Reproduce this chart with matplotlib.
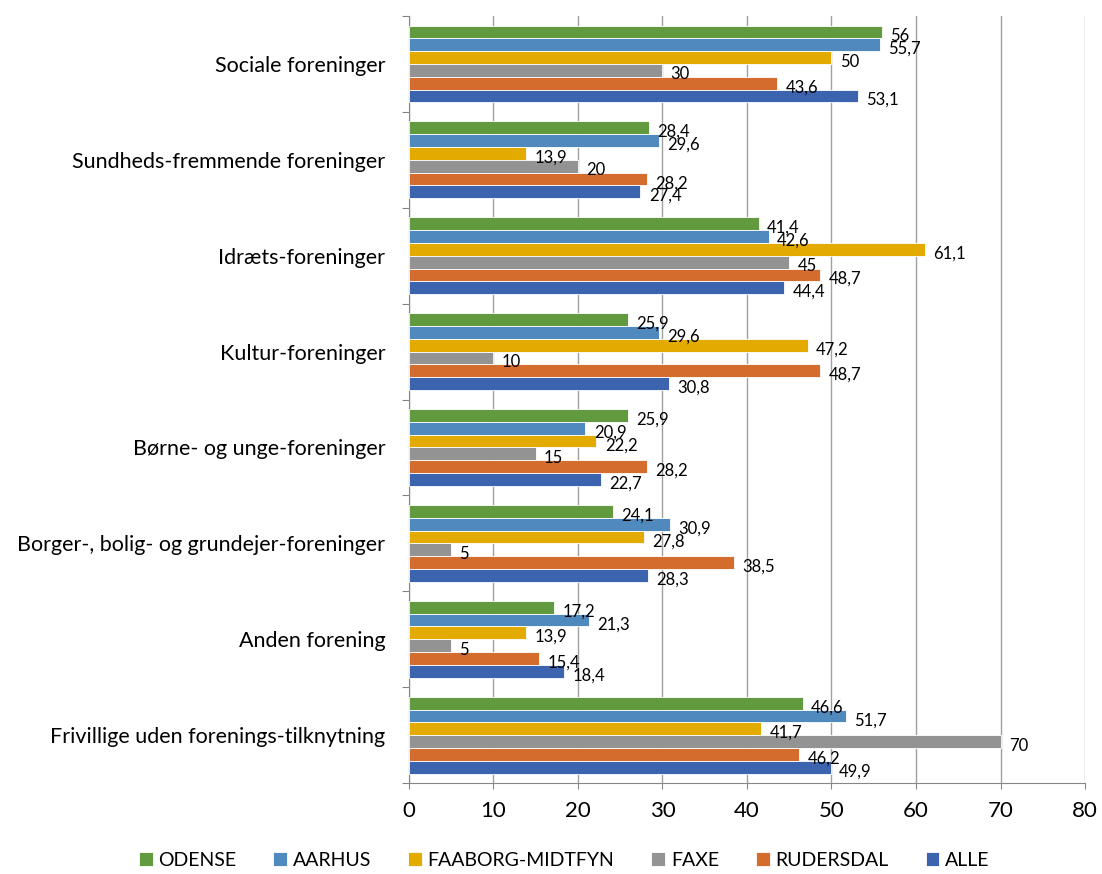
import numpy as np
import matplotlib
matplotlib.use("Agg")
import matplotlib.pyplot as plt

plt.rcParams['font.family'] = ['Lato', 'DejaVu Sans']

categories = ["Sociale foreninger", "Sundheds-fremmende foreninger", "Idræts-foreninger",
              "Kultur-foreninger", "Børne- og unge-foreninger",
              "Borger-, bolig- og grundejer-foreninger", "Anden forening",
              "Frivillige uden forenings-tilknytning"]
series = ["ODENSE", "AARHUS", "FAABORG-MIDTFYN", "FAXE", "RUDERSDAL", "ALLE"]
colors = ["#629b3f", "#4f89bd", "#e3aa00", "#939393", "#d36c2c", "#3c64ae"]

odense = [56, 28.4, 41.4, 25.9, 25.9, 24.1, 17.2, 46.6]
aarhus = [55.7, 29.6, 42.6, 29.6, 20.9, 30.9, 21.3, 51.7]
faaborg = [50, 13.9, 61.1, 47.2, 22.2, 27.8, 13.9, 41.7]
faxe = [30, 20, 45, 10, 15, 5, 5, 70]
rudersdal = [43.6, 28.2, 48.7, 48.7, 28.2, 38.5, 15.4, 46.2]
alle = [53.1, 27.4, 44.4, 30.8, 22.7, 28.3, 18.4, 49.9]
values = [odense, aarhus, faaborg, faxe, rudersdal, alle]

fig = plt.figure(figsize=(11.02, 8.74), dpi=100)
ax = fig.add_axes([0.371, 0.104, 0.6136, 0.8777])

n = len(categories)
y = np.arange(n)
h = 0.8 / len(series)
for j, (name, vals, c) in enumerate(zip(series, values, colors)):
    pos = y - 0.4 + (j + 0.5) * h
    ax.barh(pos, vals, height=h, color=c, edgecolor="white", linewidth=0.6,
            label=name, zorder=3)
    for p, v in zip(pos, vals):
        ax.annotate(f"{v:g}".replace(".", ","), (v, p), xytext=(6, -3),
                    textcoords="offset points", va="center", ha="left",
                    fontsize=12, color="black", zorder=4)

ax.set_xlim(0, 80)
ax.set_ylim(n - 0.5, -0.5)
ax.set_xticks(np.arange(0, 81, 10))
ax.tick_params(axis="x", labelsize=16, length=4, color="#868686", pad=9)
ax.grid(axis="x", color="#a0a0a0", linewidth=1, zorder=0)

ax.set_yticks(np.arange(-0.5, n, 1))
ax.set_yticklabels([])
ax.tick_params(axis="y", which="major", length=5, color="#868686")
ax.set_yticks(y, minor=True)
ax.set_yticklabels(categories, minor=True, fontsize=15.5)
ax.tick_params(axis="y", which="minor", length=0, pad=17)

for s in ["top", "right"]:
    ax.spines[s].set_visible(False)
for s in ["left", "bottom"]:
    ax.spines[s].set_color("#868686")

handles, labels = ax.get_legend_handles_labels()
fig.legend(handles, labels, loc="center", bbox_to_anchor=(0.512, 0.016),
           ncol=6, frameon=False, fontsize=14, handlelength=0.7,
           handleheight=0.7, handletextpad=0.3, columnspacing=1.9)

fig.savefig("out.png", dpi=100)
